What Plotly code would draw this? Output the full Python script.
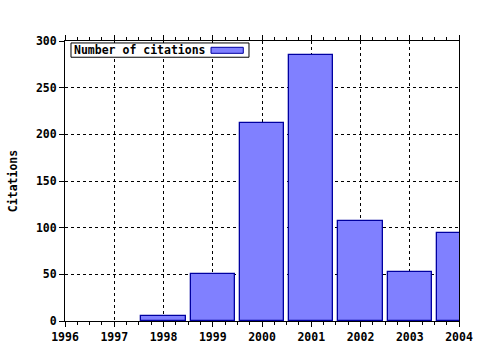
import plotly.graph_objects as go

years = [1998, 1999, 2000, 2001, 2002, 2003, 2004]
citations = [5, 50, 212, 285, 107, 52, 94]
series_name = "Number of citations"
y_title = "Citations"

FONT = dict(family="DejaVu Sans Mono", size=11.5, color="black", weight="bold")

fig = go.Figure()
fig.add_trace(go.Bar(
    x=years, y=citations, width=0.9, name=series_name,
    marker=dict(color="#8080ff", line=dict(color="#0000a0", width=1.3)),
    showlegend=False,
))

fig.update_layout(
    width=480, height=350,
    margin=dict(l=65, r=21, t=41, b=29, autoexpand=False),
    paper_bgcolor="white", plot_bgcolor="white",
    font=FONT,
    bargap=0,
)
fig.update_xaxes(
    range=[1996, 2004], tick0=1996, dtick=1, automargin=False,
    showgrid=True, gridcolor="black", griddash="dot", gridwidth=1,
    showline=True, linecolor="black", linewidth=1, mirror="ticks",
    ticks="outside", ticklen=5, tickcolor="black",
    minor=dict(dtick=0.25, ticks="outside", ticklen=3, tickcolor="black", showgrid=False),
    tickfont=FONT, zeroline=False,
)
fig.update_yaxes(
    range=[0, 300], dtick=50, automargin=False,
    showgrid=True, gridcolor="black", griddash="dot", gridwidth=1,
    showline=True, linecolor="black", linewidth=1, mirror=True,
    ticks="outside", ticklen=5, tickcolor="black",
    tickfont=FONT, zeroline=False,
    title=dict(text=y_title, font=FONT, standoff=15),
)

# legend box (swatch on the right side, as in the reference)
fig.add_shape(type="rect", xref="paper", yref="paper",
              x0=0.0152, x1=0.467, y0=0.942, y1=0.993,
              line=dict(color="black", width=1), fillcolor="white", layer="above")
fig.add_shape(type="rect", xref="paper", yref="paper",
              x0=0.3706, x1=0.4525, y0=0.956, y1=0.9775,
              line=dict(color="#0000a0", width=1), fillcolor="#8080ff", layer="above")
fig.add_annotation(xref="paper", yref="paper", x=0.019, y=0.967,
                   xanchor="left", yanchor="middle", text=series_name,
                   showarrow=False, font=FONT)

fig.write_html("out.html")
